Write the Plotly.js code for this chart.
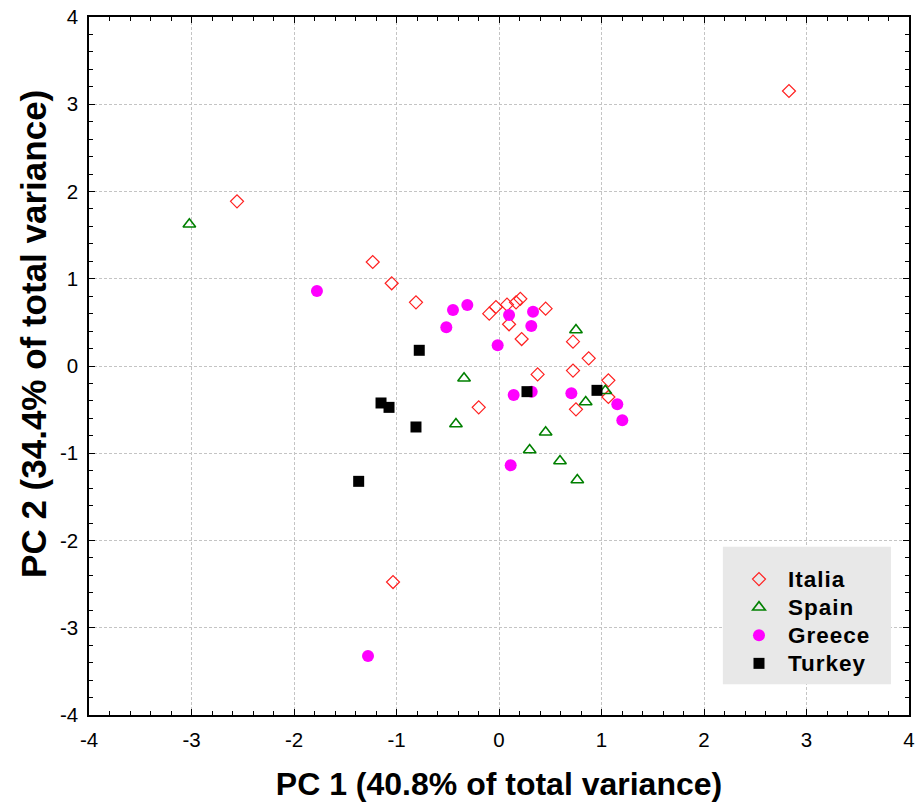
<!DOCTYPE html>
<html>
<head>
<meta charset="utf-8">
<script src="https://cdn.plot.ly/plotly-3.0.1.min.js"></script>
<style>
html,body{margin:0;padding:0;background:#fff;}
#chart .legend .legendtext{font-size:22.5px !important; letter-spacing:1px;}
#chart .legend g, #chart .legend .scrollbox{clip-path:none !important;}
</style>
</head>
<body>
<div id="chart" style="width:923px;height:806px;"></div>
<script>
const italiaX = [-1.047, -0.81, -0.095, -0.03, 0.078, 0.166, 0.208, 0.455, 0.098, 0.221, 0.722, 0.875, 0.722, 0.377, 1.067, 1.067, 0.751, -0.198, -2.556, -1.232, 2.829, -1.034];
const italiaY = [0.948, 0.73, 0.60, 0.676, 0.703, 0.73, 0.77, 0.657, 0.478, 0.309, 0.279, 0.088, -0.053, -0.096, -0.164, -0.355, -0.497, -0.474, 1.887, 1.192, 3.152, -2.476];

const spainX = [-3.021, 0.751, -0.341, 1.037, 0.846, -0.42, 0.455, 0.299, 0.595, 0.764];
const spainY = [1.624, 0.413, -0.141, -0.283, -0.413, -0.665, -0.76, -0.963, -1.089, -1.307];

const greeceX = [-1.776, -0.449, -0.309, -0.514, 0.098, 0.332, 0.315, -0.013, 0.143, 0.319, 0.706, 1.154, 1.203, 0.114, -1.278];
const greeceY = [0.86, 0.642, 0.699, 0.443, 0.585, 0.623, 0.458, 0.237, -0.332, -0.294, -0.313, -0.439, -0.623, -1.138, -3.324];

const turkeyX = [-0.778, -1.151, -1.073, -0.81, -1.369, 0.273, 0.956];
const turkeyY = [0.18, -0.424, -0.474, -0.699, -1.322, -0.294, -0.279];

const seriesNames = ["Italia", "Spain", "Greece", "Turkey"];
const tickVals = [-4, -3, -2, -1, 0, 1, 2, 3, 4];
const xTitle = "PC 1 (40.8% of total variance)";
const yTitle = "PC 2 (34.4% of total variance)";

const FONT = "Liberation Sans, Arial, sans-serif";

const traces = [
  {x: italiaX, y: italiaY, name: seriesNames[0], type: "scatter", mode: "markers",
   marker: {symbol: "diamond-open", size: 10, color: "#ff2020", line: {width: 1.2, color: "#ff2020"}}},
  {x: spainX, y: spainY, name: seriesNames[1], type: "scatter", mode: "markers",
   marker: {symbol: "triangle-up-open", size: 11, color: "#008000", line: {width: 1.6, color: "#008000"}}},
  {x: greeceX, y: greeceY, name: seriesNames[2], type: "scatter", mode: "markers",
   marker: {symbol: "circle", size: 12, color: "#ff00ff"}},
  {x: turkeyX, y: turkeyY, name: seriesNames[3], type: "scatter", mode: "markers",
   marker: {symbol: "square", size: 11, color: "#000000"}}
];

const axisCommon = {
  range: [-4, 4], tickvals: tickVals, ticktext: tickVals.map(String),
  showgrid: true, gridcolor: "#c4c4c4", griddash: "3px,2px", gridwidth: 1,
  zeroline: false, showline: true, linecolor: "#000", linewidth: 1.5,
  mirror: "allticks", ticks: "inside", ticklen: 6, tickcolor: "#000", tickwidth: 1,
  minor: {dtick: 0.2, ticks: "inside", ticklen: 4, tickcolor: "#000", showgrid: false},
  tickfont: {family: FONT, size: 20.5, color: "#000"},
  automargin: false
};

const layout = {
  width: 923, height: 806,
  margin: {l: 89, r: 14, t: 17, b: 91},
  paper_bgcolor: "#fff", plot_bgcolor: "#fff",
  showlegend: true,
  xaxis: Object.assign({}, axisCommon, {
    ticklabelstandoff: 6,
    title: {text: xTitle, font: {family: FONT, size: 32, color: "#000", weight: "bold"}, standoff: 22}
  }),
  yaxis: Object.assign({}, axisCommon, {
    ticklabelstandoff: 5
  }),
  annotations: [{
    text: yTitle, xref: "paper", yref: "paper", x: -0.067, y: 0.546,
    xanchor: "center", yanchor: "middle", textangle: -90, showarrow: false,
    font: {family: FONT, size: 35, color: "#000", weight: "bold"}
  }],
  shapes: [{
    type: "rect", xref: "paper", yref: "paper", layer: "above",
    x0: 0.773, x1: 0.978, y0: 0.044, y1: 0.241,
    fillcolor: "#e8e8e8", line: {width: 0}
  }],
  legend: {
    x: 0.7817, y: 0.222, xanchor: "left", yanchor: "top",
    bgcolor: "rgba(0,0,0,0)", borderwidth: 0,
    font: {family: FONT, size: 19.3, color: "#000", weight: "bold"},
    itemwidth: 48
  }
};

Plotly.newPlot("chart", traces, layout, {displayModeBar: false});
</script>
</body>
</html>
